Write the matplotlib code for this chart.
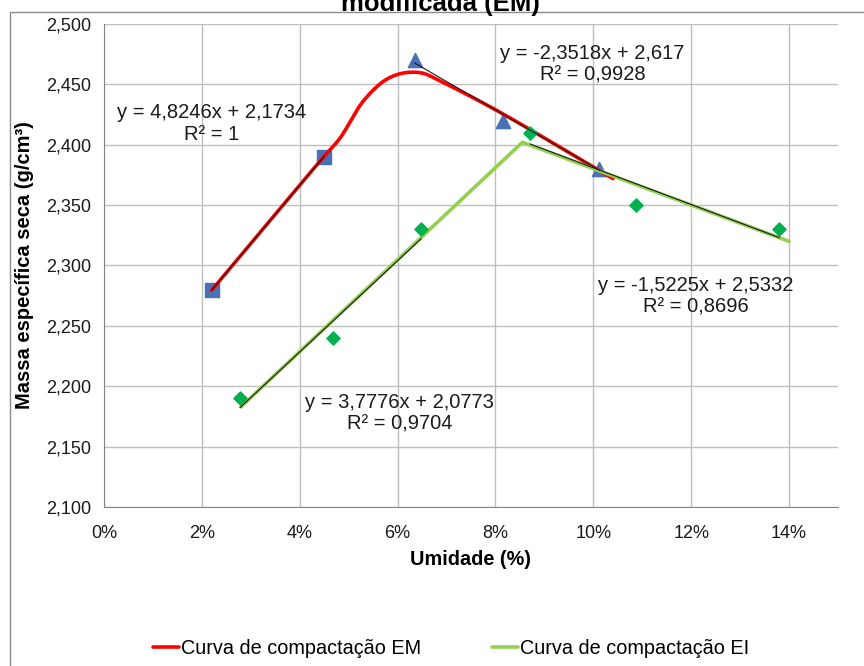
import numpy as np
import matplotlib.pyplot as plt
from matplotlib.patches import Rectangle
from matplotlib.ticker import MultipleLocator, FuncFormatter

plt.rcParams['font.family'] = ['Liberation Sans', 'DejaVu Sans']

# ensaio modificado (EM): ramo seco e ramo úmido
em_seco_x = [0.022, 0.045]
em_seco_y = [2.280, 2.390]
em_umido_x = [0.0635, 0.0815, 0.1012]
em_umido_y = [2.470, 2.420, 2.380]

# ensaio intermediário (EI)
ei_seco_x = [0.0278, 0.0468, 0.0648]
ei_seco_y = [2.190, 2.240, 2.330]
ei_umido_x = [0.0871, 0.1087, 0.1380]
ei_umido_y = [2.410, 2.350, 2.330]

# retas de tendência (inclinação, intercepto, R²)
tend_em_seco = (4.8246, 2.1734, '1')
tend_em_umido = (-2.3518, 2.617, '0,9928')
tend_ei_seco = (3.7776, 2.0773, '0,9704')
tend_ei_umido = (-1.5225, 2.5332, '0,8696')

# pontos das curvas de compactação
curva_em_x = [0.022, 0.045, 0.0482, 0.0529, 0.0570, 0.0597, 0.0624, 0.0652,
              0.0686, 0.0800, 0.1040]
curva_em_y = [2.2795, 2.3905, 2.4053, 2.4357, 2.4522, 2.4578, 2.4600, 2.4592,
              2.4530, 2.4290, 2.3720]
curva_ei_x = [0.028, 0.0855, 0.140]
curva_ei_y = [2.183, 2.402, 2.320]

# escala aproximada em pixels por unidade, para suavizar em espaço de tela
SX, SY = 4893.0, 1207.5


def suaviza(xs, ys, n=30):
    # Catmull-Rom centrípeta (sem oscilações entre pontos desiguais)
    p = np.column_stack([np.array(xs) * SX, np.array(ys) * SY])
    p = np.vstack([2 * p[0] - p[1], p, 2 * p[-1] - p[-2]])
    out = []
    for i in range(1, len(p) - 2):
        p0, p1, p2, p3 = p[i - 1], p[i], p[i + 1], p[i + 2]
        t0 = 0.0
        t1 = t0 + np.linalg.norm(p1 - p0) ** 0.5
        t2 = t1 + np.linalg.norm(p2 - p1) ** 0.5
        t3 = t2 + np.linalg.norm(p3 - p2) ** 0.5
        t = np.linspace(t1, t2, n)[:, None]
        a1 = (t1 - t) / (t1 - t0) * p0 + (t - t0) / (t1 - t0) * p1
        a2 = (t2 - t) / (t2 - t1) * p1 + (t - t1) / (t2 - t1) * p2
        a3 = (t3 - t) / (t3 - t2) * p2 + (t - t2) / (t3 - t2) * p3
        b1 = (t2 - t) / (t2 - t0) * a1 + (t - t0) / (t2 - t0) * a2
        b2 = (t3 - t) / (t3 - t1) * a2 + (t - t1) / (t3 - t1) * a3
        c = (t2 - t) / (t2 - t1) * b1 + (t - t1) / (t2 - t1) * b2
        out.append(c)
    out = np.vstack(out)
    return out[:, 0] / SX, out[:, 1] / SY


fig = plt.figure(figsize=(8.64, 6.66), dpi=100)
ax = fig.add_axes([104 / 864, 1 - 507 / 666, 734 / 864, 483 / 666])

# moldura do gráfico
fig.patches.append(Rectangle((10 / 864, -0.1), 1.2, 1 - 12 / 666 + 0.1,
                             transform=fig.transFigure, fill=False,
                             edgecolor='#8C8C8C', linewidth=1))

ax.scatter(em_seco_x, em_seco_y, marker='s', s=105, color='#4A70B5', zorder=2)
ax.scatter(em_umido_x, em_umido_y, marker='^', s=105, color='#4A70B5', zorder=2)

xs, ys = suaviza(curva_em_x, curva_em_y)
ax.plot(xs, ys, color='#FF0000', lw=2.6, zorder=3, solid_joinstyle='round',
        solid_capstyle='round', label='Curva de compactação EM')
ax.plot(curva_ei_x, curva_ei_y, color='#92D050', lw=2.6, zorder=3,
        solid_joinstyle='round', solid_capstyle='round',
        label='Curva de compactação EI')

ax.scatter(ei_seco_x, ei_seco_y, marker='D', s=45, color='#00B050', zorder=4)
ax.scatter(ei_umido_x, ei_umido_y, marker='D', s=45, color='#00B050', zorder=4)

for px, (a, b, _) in [(em_seco_x, tend_em_seco), (em_umido_x, tend_em_umido),
                      (ei_seco_x, tend_ei_seco), (ei_umido_x, tend_ei_umido)]:
    xx = np.array([min(px), max(px)])
    ax.plot(xx, a * xx + b, color='#1A1A1A', lw=0.8, zorder=5)


def eq_texto(a, b, r2):
    return 'y = {}x + {}\nR² = {}'.format(f'{a:.4f}'.rstrip('0').replace('.', ','),
                                        f'{b:.4f}'.rstrip('0').replace('.', ','), r2)


for (a, b, r2), (tx, ty) in [(tend_em_seco, (0.0220, 2.4180)),
                             (tend_em_umido, (0.0998, 2.4665)),
                             (tend_ei_umido, (0.1210, 2.2745)),
                             (tend_ei_seco, (0.0604, 2.1775))]:
    ax.text(tx, ty, eq_texto(a, b, r2), ha='center', va='center',
            fontsize=14.5, color='#1A1A1A', zorder=6, linespacing=1.2)

ax.set_xlim(0, 0.15)
ax.set_ylim(2.1, 2.5)
ax.xaxis.set_major_locator(MultipleLocator(0.02))
ax.yaxis.set_major_locator(MultipleLocator(0.05))
ax.xaxis.set_major_formatter(FuncFormatter(lambda v, p: f'{v * 100:.0f}%'))
ax.yaxis.set_major_formatter(FuncFormatter(lambda v, p: f'{v:.3f}'.replace('.', ',')))
ax.tick_params(length=0, labelsize=13, colors='#1A1A1A')
ax.tick_params(axis='y', pad=9)
ax.tick_params(axis='x', pad=13)
ax.grid(True, color='#BEBEBE', lw=1)
ax.set_axisbelow(True)
for s in ['top', 'right']:
    ax.spines[s].set_visible(False)
for s in ['left', 'bottom']:
    ax.spines[s].set_color('#868686')

ax.set_xlabel('Umidade (%)', fontsize=14.3, fontweight='bold', labelpad=6)
ax.set_ylabel('Massa específica seca (g/cm³)', fontsize=14.5, fontweight='bold')
ax.yaxis.set_label_coords(-0.095, 0.5)

fig.text(0.51, 1 - 11 / 666, 'modificada (EM)', ha='center', va='baseline',
         fontsize=18.5, fontweight='bold')

fig.legend(loc='center', bbox_to_anchor=(0.522, 0.027), ncol=2, frameon=False,
           fontsize=14.3, handlelength=1.3, handletextpad=0.1, columnspacing=3.6)

fig.savefig('out.png', dpi=100)
